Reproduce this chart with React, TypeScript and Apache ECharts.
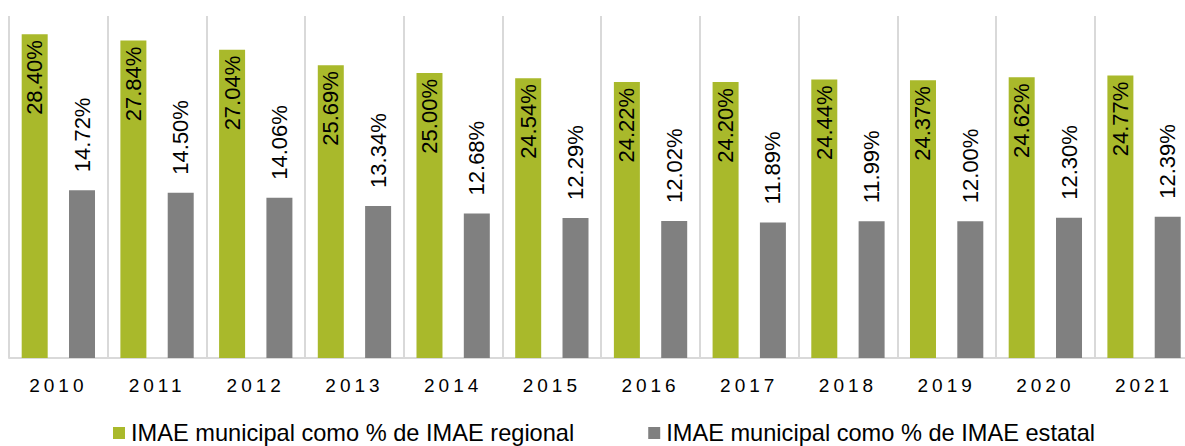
import React, { useEffect, useRef } from "react";
import * as echarts from "echarts";

const years = ["2010", "2011", "2012", "2013", "2014", "2015", "2016", "2017", "2018", "2019", "2020", "2021"];
const regional = [28.4, 27.84, 27.04, 25.69, 25.0, 24.54, 24.22, 24.2, 24.44, 24.37, 24.62, 24.77];
const estatal = [14.72, 14.5, 14.06, 13.34, 12.68, 12.29, 12.02, 11.89, 11.99, 12.0, 12.3, 12.39];
const seriesNames = ["IMAE municipal como % de IMAE regional", "IMAE municipal como % de IMAE estatal"];

const FONT = "'Liberation Sans', Arial, sans-serif";

export default function App() {
  const ref = useRef<HTMLDivElement>(null);
  useEffect(() => {
    if (!ref.current) return;
    const chart = echarts.init(ref.current, undefined, { renderer: "svg" });
    const fmt = (p: any) => Number(p.value).toFixed(2) + "%";
    chart.setOption({
      animation: false,
      textStyle: { fontFamily: FONT },
      grid: {
        left: 9,
        width: 1184.4,
        top: 16,
        height: 342,
        containLabel: false,
        outerBoundsMode: "none",
      },
      legend: {
        data: seriesNames,
        left: 113,
        top: 421,
        padding: 0,
        itemWidth: 12,
        itemHeight: 12,
        itemGap: 74,
        icon: "rect",
        textStyle: { fontSize: 23.6, lineHeight: 22, color: "#000", fontFamily: FONT, padding: [0, 0, 0, 1] },
      },
      xAxis: {
        type: "category",
        data: years,
        axisLine: { lineStyle: { color: "#d9d9d9", width: 2 } },
        axisTick: { show: false },
        splitLine: { show: true, lineStyle: { color: "#d9d9d9", width: 2 } },
        axisLabel: { fontSize: 19, color: "#000", margin: 18, fontFamily: FONT },
      },
      yAxis: {
        type: "value",
        min: 0,
        max: 30,
        show: false,
        splitLine: { show: false },
      },
      series: [
        {
          name: seriesNames[0],
          type: "bar",
          data: regional,
          barWidth: 26,
          barGap: "82%",
          itemStyle: { color: "#a9b92b" },
          label: {
            show: true,
            position: "insideTop",
            rotate: 90,
            align: "right",
            verticalAlign: "middle",
            distance: 6,
            fontSize: 22,
            color: "#000",
            fontFamily: FONT,
            formatter: fmt,
          },
        },
        {
          name: seriesNames[1],
          type: "bar",
          data: estatal,
          barWidth: 26,
          itemStyle: { color: "#808080" },
          label: {
            show: true,
            position: "top",
            rotate: 90,
            align: "left",
            verticalAlign: "middle",
            distance: 18,
            fontSize: 22,
            color: "#000",
            fontFamily: FONT,
            formatter: fmt,
          },
        },
      ],
    });
    return () => chart.dispose();
  }, []);
  return (
    <>
      <style>{`svg text[style*="19px"] { letter-spacing: 4px; }`}</style>
      <div
        ref={ref}
        style={{ position: "fixed", left: 0, top: 0, width: 1185, height: 446, background: "#fff" }}
      />
    </>
  );
}
